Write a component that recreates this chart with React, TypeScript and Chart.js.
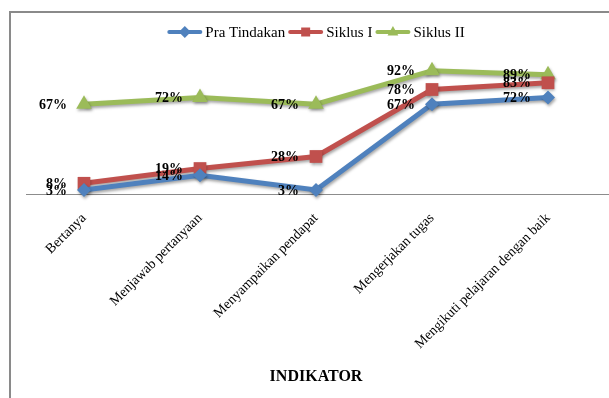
import React, { useEffect, useRef } from "react";
import { Chart, registerables } from "chart.js";

Chart.register(...registerables);

const categories = [
  "Bertanya",
  "Menjawab pertanyaan",
  "Menyampaikan pendapat",
  "Mengerjakan tugas",
  "Mengikuti pelajaran dengan baik",
];
const praTindakan = [3, 14, 3, 67, 72];
const siklusI = [8, 19, 28, 78, 83];
const siklusII = [67, 72, 67, 92, 89];
const seriesNames = ["Pra Tindakan", "Siklus I", "Siklus II"];
const seriesColors = ["#4F81BD", "#C0504D", "#9BBB59"];
const seriesMarkers = ["rectRot", "rect", "triangle"];
const axisTitle = "INDIKATOR";

const SERIF = "'Liberation Serif', 'Times New Roman', serif";

function drawMarker(ctx: CanvasRenderingContext2D, kind: string, x: number, y: number, r: number) {
  ctx.beginPath();
  if (kind === "rectRot") {
    ctx.moveTo(x, y - r);
    ctx.lineTo(x + r, y);
    ctx.lineTo(x, y + r);
    ctx.lineTo(x - r, y);
  } else if (kind === "rect") {
    const s = r * 0.75;
    ctx.rect(x - s, y - s, 2 * s, 2 * s);
  } else {
    ctx.moveTo(x, y - r);
    ctx.lineTo(x + r * 0.9, y + r * 0.6);
    ctx.lineTo(x - r * 0.9, y + r * 0.6);
  }
  ctx.closePath();
  ctx.fill();
}

const framePlugin = {
  id: "frame",
  beforeDraw(chart: any) {
    const ctx = chart.ctx;
    ctx.save();
    ctx.fillStyle = "#ffffff";
    ctx.fillRect(0, 0, chart.width, chart.height);
    ctx.fillStyle = "#8a8a8a";
    ctx.fillRect(9, 11, chart.width - 9, 2);
    ctx.fillRect(9, 11, 2, chart.height - 11);
    ctx.restore();
  },
};

const axisLinePlugin = {
  id: "axisLine",
  beforeDatasetsDraw(chart: any) {
    const ctx = chart.ctx;
    const y = Math.round(chart.scales.y.getPixelForValue(0)) + 0.5;
    ctx.save();
    ctx.strokeStyle = "#8c8c8c";
    ctx.lineWidth = 1;
    ctx.beginPath();
    ctx.moveTo(chart.chartArea.left, y);
    ctx.lineTo(chart.width, y);
    ctx.stroke();
    ctx.restore();
  },
};

const shadowPlugin = {
  id: "shadow",
  beforeDatasetDraw(chart: any) {
    const ctx = chart.ctx;
    ctx.save();
    ctx.shadowColor = "rgba(0,0,0,0.35)";
    ctx.shadowBlur = 3;
    ctx.shadowOffsetX = 1;
    ctx.shadowOffsetY = 2;
  },
  afterDatasetDraw(chart: any) {
    chart.ctx.restore();
  },
};

const labelPlugin = {
  id: "valueLabels",
  afterDatasetsDraw(chart: any) {
    const ctx = chart.ctx;
    ctx.save();
    ctx.font = "bold 14px " + SERIF;
    ctx.fillStyle = "#000000";
    ctx.textAlign = "right";
    ctx.textBaseline = "middle";
    chart.data.datasets.forEach((ds: any, di: number) => {
      const meta = chart.getDatasetMeta(di);
      meta.data.forEach((pt: any, i: number) => {
        ctx.fillText(ds.data[i] + "%", pt.x - 17, pt.y + 1);
      });
    });
    ctx.restore();
  },
};

const titlePlugin = {
  id: "axisTitleText",
  afterDraw(chart: any) {
    const ctx = chart.ctx;
    ctx.save();
    ctx.font = "bold 16px " + SERIF;
    ctx.fillStyle = "#000000";
    ctx.textAlign = "center";
    ctx.textBaseline = "middle";
    const cx = (chart.chartArea.left + chart.chartArea.right) / 2;
    ctx.fillText(axisTitle, cx, 377);
    ctx.restore();
  },
};

const legendPlugin = {
  id: "customLegend",
  afterDraw(chart: any) {
    const ctx = chart.ctx;
    ctx.save();
    ctx.font = "15px " + SERIF;
    ctx.textBaseline = "middle";
    const lineW = 35;
    const gap = 3;
    const widths = seriesNames.map((n) => ctx.measureText(n).width);
    const total = widths.reduce((a, w) => a + lineW + gap + w + gap, 0) - gap;
    const cx = (chart.chartArea.left + chart.chartArea.right) / 2;
    let x = cx - total / 2;
    const y = 32;
    seriesNames.forEach((n, i) => {
      ctx.strokeStyle = seriesColors[i];
      ctx.fillStyle = seriesColors[i];
      ctx.lineWidth = 4;
      ctx.lineCap = "round";
      ctx.beginPath();
      ctx.moveTo(x + 2, y);
      ctx.lineTo(x + lineW - 2, y);
      ctx.stroke();
      drawMarker(ctx, seriesMarkers[i], x + lineW / 2, y, 6);
      x += lineW + gap;
      ctx.fillStyle = "#000000";
      ctx.textAlign = "left";
      ctx.fillText(n, x, y + 1);
      x += widths[i] + gap;
    });
    ctx.restore();
  },
};

export default function App() {
  const ref = useRef<HTMLCanvasElement | null>(null);
  useEffect(() => {
    if (!ref.current) return;
    const values = [praTindakan, siklusI, siklusII];
    const radii = [7, 9, 9];
    const chart = new Chart(ref.current, {
      type: "line",
      data: {
        labels: categories,
        datasets: seriesNames.map((name, i) => ({
          label: name,
          data: values[i],
          borderColor: seriesColors[i],
          backgroundColor: seriesColors[i],
          borderWidth: 5,
          pointStyle: seriesMarkers[i] as any,
          pointRadius: radii[i],
          pointBorderWidth: 0,
          pointBackgroundColor: seriesColors[i],
          tension: 0,
          clip: false as any,
        })),
      },
      options: {
        animation: false,
        responsive: false,
        devicePixelRatio: 1,
        layout: { autoPadding: false, padding: { left: 26, right: 3, top: 60, bottom: 0 } },
        plugins: {
          legend: { display: false },
          tooltip: { enabled: false },
        },
        scales: {
          x: {
            type: "category",
            offset: true,
            grid: { display: false },
            border: { display: false },
            afterFit: (scale: any) => {
              scale.paddingLeft = 0;
              scale.paddingRight = 0;
              scale.height = 204;
            },
            ticks: {
              maxRotation: 45,
              minRotation: 45,
              padding: 8,
              color: "#000000",
              font: { family: SERIF, size: 14 },
            },
          },
          y: { display: false, min: 0, max: 100 },
        },
      },
      plugins: [framePlugin, axisLinePlugin, shadowPlugin, labelPlugin, titlePlugin, legendPlugin],
    });
    return () => chart.destroy();
  }, []);
  return (
    <div style={{ position: "fixed", left: 0, top: 0, width: 609, height: 398 }}>
      <canvas ref={ref} width={609} height={398} style={{ width: 609, height: 398, display: "block" }} />
    </div>
  );
}
